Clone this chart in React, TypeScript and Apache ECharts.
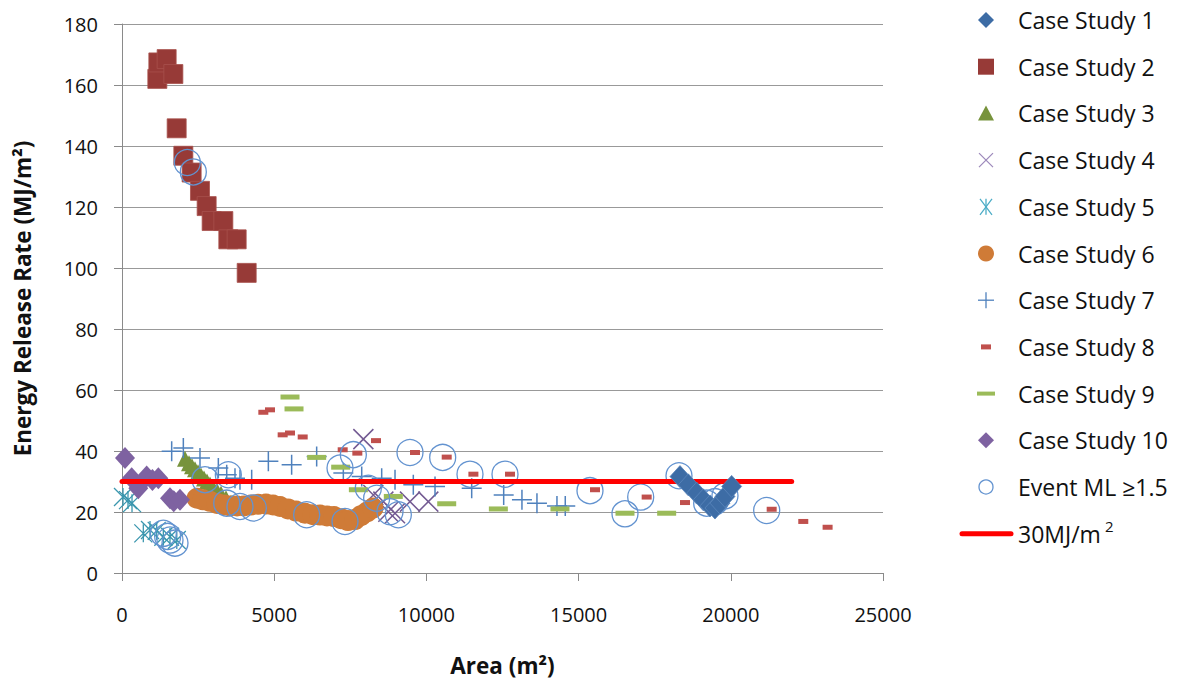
import React, { useEffect, useRef } from 'react';
import * as echarts from 'echarts';

// ---------- data (Area m², Energy Release Rate MJ/m²) ----------
const caseStudy1: [number, number][] = [
  [18331, 31.6], [18604, 28.9], [18878, 26.2], [19097, 24.0], [19316, 22.0],
  [19480, 21.3], [19645, 22.9], [19809, 25.1], [20028, 28.4],
];
const caseStudy2: [number, number][] = [
  [1161, 162], [1194, 167.4], [1467, 168.5], [1687, 163.6], [1796, 145.8],
  [2015, 136.8], [2288, 131.3], [2562, 125.3], [2781, 120.3], [2945, 115.4],
  [3329, 115.4], [3493, 109.4], [3767, 109.4], [4096, 98.4],
];
const caseStudy3: [number, number][] = [
  [2070, 37.5], [2201, 36], [2300, 35], [2398, 34], [2497, 33], [2595, 32],
  [2694, 31], [2792, 30], [2891, 29], [2990, 28], [3121, 27], [3252, 26],
  [3417, 24.5], [3581, 23],
];
const caseStudy4: [number, number][] = [
  [7929, 43.9], [8257, 25.6], [8586, 23.4], [8750, 20.1], [8969, 19.6],
  [9461, 23.4], [10063, 23.4],
];
const caseStudy5: [number, number][] = [
  [33, 24.9], [197, 23.9], [329, 22.9], [700, 13], [920, 14.1], [1140, 13.8],
  [1358, 11.9], [1577, 11.9], [1800, 10.8],
];
const caseStudy6: [number, number][] = [
  [2464, 24.5], [2661, 24], [2891, 23.5], [3121, 22.8], [3351, 22.3], [3548, 22],
  [3778, 22], [4008, 22], [4238, 22.3], [4468, 22.5], [4730, 22.6], [4960, 22.3],
  [5190, 21.8], [5453, 21], [5716, 20.3], [6012, 19.6], [6274, 19.1], [6504, 19],
  [6734, 18.7], [6964, 18.5], [7194, 17.8], [7424, 17.2], [7654, 17.5], [7851, 18.8],
  [8048, 20], [8245, 21.3],
];
const caseStudy7: [number, number][] = [
  [1632, 39.9], [2015, 41], [2562, 37.7], [3165, 34.4], [3440, 32.2], [3712, 31.1],
  [3876, 30.6], [4260, 30.6], [4808, 36.6], [5573, 35.5], [6395, 38.2], [7271, 32.8],
  [7875, 31.6], [8531, 31.1], [8969, 30.6], [9570, 28.9], [10283, 28.4], [11488, 27.8],
  [12539, 25.6], [13139, 24], [13632, 22.9], [14289, 22], [14562, 22],
];
const caseStudy8: [number, number][] = [
  [4643, 52.7], [4862, 53.5], [5278, 45.3], [5519, 45.9], [5936, 44.6], [7250, 40.4],
  [7731, 39.3], [8344, 43.4], [9625, 39.5], [10667, 38], [11544, 32.4], [12747, 32.4],
  [13929, 30], [15539, 27.3], [17236, 24.9], [18495, 23.1], [19734, 24.3], [21343, 20.9],
  [22381, 16.9], [23180, 15.0],
];
const caseStudy9: [number, number][] = [
  [5519, 57.7], [5651, 53.8], [6395, 37.9], [7184, 34.7], [7765, 27.3], [8913, 25.1],
  [10667, 22.7], [12364, 21], [14388, 21], [16524, 19.6], [17893, 19.6],
];
const caseStudy10: [number, number][] = [
  [99, 37.7], [318, 31.1], [536, 27.8], [810, 31.6], [1000, 30.5], [1194, 31.1],
  [1577, 24.5], [1700, 23.5], [1905, 24],
];
const eventML: [number, number][] = [
  [2146, 134.6], [2343, 131.5], [1358, 13], [1500, 12], [1577, 10.8], [1741, 9.8],
  [2727, 30.6], [3493, 32.2], [3440, 22.9], [3876, 21.8], [4314, 21.3], [6067, 19.1],
  [7326, 16.9], [7162, 34.4], [7600, 38.8], [8092, 27.8], [8366, 24.5], [8804, 20.1],
  [9078, 19.1], [9461, 39.5], [10535, 37.9], [11432, 32.4], [12582, 32.4], [15374, 27],
  [16524, 19.4], [17040, 24.9], [18298, 31.9], [19207, 22.9], [19480, 23.4],
  [19809, 25.3], [21179, 20.5],
];
const thresholdLine: [number, number][] = [[0, 30], [22000, 30]];

const seriesNames = [
  'Case Study 1', 'Case Study 2', 'Case Study 3', 'Case Study 4', 'Case Study 5',
  'Case Study 6', 'Case Study 7', 'Case Study 8', 'Case Study 9', 'Case Study 10',
  'Event ML ≥1.5',
];
const thresholdName = '30MJ/m2';

const xMin = 0, xMax = 25000, xInterval = 5000;
const yMin = 0, yMax = 180, yInterval = 20;

// ---------- styling ----------
const FONT = '"Open Sans", "Noto Sans", sans-serif';
const C1 = '#3D6CA5', C2 = '#973A37', C3 = '#77933C', C4 = '#735A92', C5 = '#3A96AE';
const C6 = '#CF7B37', C7 = '#4F81BD', C8 = '#C0504D', C9 = '#9BBB59', C10 = '#7E62A1';
const CEV = '#6393D0';

const X_PATH = 'path://M0,0L20,20M20,0L0,20';
const PLUS_PATH = 'path://M10,0L10,20M0,10L20,10';
const AST_PATH = 'path://M3,0L17,20M17,0L3,20M10,0L10,20';

function scatter(name: string, data: [number, number][], symbol: string, size: any, itemStyle: any, z = 2) {
  return {
    type: 'scatter', name, data, symbol, symbolSize: size, itemStyle: { opacity: 1, ...itemStyle }, z,
    silent: true, emphasis: { disabled: true },
  };
}

function legendGraphics() {
  const els: any[] = [];
  const ix = 986, tx = 1018, y0 = 20, gap = 46.7;
  const textStyle = (t: string, y: number) => ({
    type: 'text', x: tx, y,
    style: { text: t, font: `23px ${FONT}`, fill: '#111', align: 'left', verticalAlign: 'middle' },
  });
  const icons: ((y: number) => any)[] = [
    (y) => ({ type: 'polygon', shape: { points: [[ix, y - 8], [ix + 8, y], [ix, y + 8], [ix - 8, y]] }, style: { fill: C1 } }),
    (y) => ({ type: 'rect', shape: { x: ix - 8, y: y - 8, width: 16, height: 16 }, style: { fill: C2 } }),
    (y) => ({ type: 'polygon', shape: { points: [[ix, y - 8], [ix + 8, y + 7], [ix - 8, y + 7]] }, style: { fill: C3 } }),
    (y) => ({ type: 'group', children: [
      { type: 'line', shape: { x1: ix - 7, y1: y - 7, x2: ix + 7, y2: y + 7 }, style: { stroke: '#9C88BA', lineWidth: 1.3 } },
      { type: 'line', shape: { x1: ix + 7, y1: y - 7, x2: ix - 7, y2: y + 7 }, style: { stroke: '#9C88BA', lineWidth: 1.3 } },
    ] }),
    (y) => ({ type: 'group', children: [
      { type: 'line', shape: { x1: ix - 6, y1: y - 8, x2: ix + 6, y2: y + 8 }, style: { stroke: '#4BACC6', lineWidth: 1.3 } },
      { type: 'line', shape: { x1: ix + 6, y1: y - 8, x2: ix - 6, y2: y + 8 }, style: { stroke: '#4BACC6', lineWidth: 1.3 } },
      { type: 'line', shape: { x1: ix, y1: y - 8, x2: ix, y2: y + 8 }, style: { stroke: '#4BACC6', lineWidth: 1.3 } },
    ] }),
    (y) => ({ type: 'circle', shape: { cx: ix, cy: y, r: 8 }, style: { fill: C6 } }),
    (y) => ({ type: 'group', children: [
      { type: 'line', shape: { x1: ix - 8, y1: y, x2: ix + 8, y2: y }, style: { stroke: C7, lineWidth: 1.3 } },
      { type: 'line', shape: { x1: ix, y1: y - 8, x2: ix, y2: y + 8 }, style: { stroke: C7, lineWidth: 1.3 } },
    ] }),
    (y) => ({ type: 'rect', shape: { x: ix - 5, y: y - 2.5, width: 10, height: 5 }, style: { fill: C8 } }),
    (y) => ({ type: 'rect', shape: { x: ix - 9, y: y - 2, width: 18, height: 4 }, style: { fill: C9 } }),
    (y) => ({ type: 'polygon', shape: { points: [[ix, y - 8], [ix + 8, y], [ix, y + 8], [ix - 8, y]] }, style: { fill: C10 } }),
    (y) => ({ type: 'circle', shape: { cx: ix, cy: y, r: 7 }, style: { fill: 'none', stroke: CEV, lineWidth: 1.3 } }),
  ];
  icons.forEach((mk, i) => {
    const y = y0 + i * gap;
    els.push(mk(y));
    els.push(textStyle(seriesNames[i], y));
  });
  const yl = y0 + 11 * gap;
  els.push({ type: 'line', shape: { x1: 962, y1: yl, x2: 1011, y2: yl }, style: { stroke: '#FF0000', lineWidth: 5, lineCap: 'round' } });
  els.push({
    type: 'text', x: tx, y: yl,
    style: {
      text: '{a|30MJ/m}{b|2}', align: 'left', verticalAlign: 'middle',
      rich: {
        a: { font: `23px ${FONT}`, fill: '#111', lineHeight: 28 },
        b: { font: `15px ${FONT}`, fill: '#111', lineHeight: 28, padding: [0, 0, 15, 4] },
      },
    },
  });
  return els;
}

export default function App() {
  const ref = useRef<HTMLDivElement>(null);
  useEffect(() => {
    if (!ref.current) return;
    const chart = echarts.init(ref.current, undefined, { renderer: 'svg' });
    const axisLabel = { color: '#111', fontSize: 20, fontFamily: FONT };
    chart.setOption({
      animation: false,
      backgroundColor: '#fff',
      grid: { left: 122, right: 300, top: 24, bottom: 109, containLabel: false },
      xAxis: {
        type: 'value', min: xMin, max: xMax, interval: xInterval,
        name: 'Area (m²)', nameLocation: 'middle', nameGap: 81,
        nameTextStyle: { fontSize: 22.5, fontWeight: 'bold', color: '#111', fontFamily: FONT },
        axisLine: { show: true, onZero: false, lineStyle: { color: '#8a8a8a', width: 1 } },
        axisTick: { show: true, inside: false, length: 8, lineStyle: { color: '#8a8a8a' } },
        axisLabel: { ...axisLabel, margin: 31, formatter: (v: number) => String(v) },
        splitLine: { show: false },
      },
      yAxis: {
        type: 'value', min: yMin, max: yMax, interval: yInterval,
        name: 'Energy Release Rate (MJ/m²)', nameLocation: 'middle', nameGap: 88,
        nameTextStyle: { fontSize: 22.5, fontWeight: 'bold', color: '#111', fontFamily: FONT },
        axisLine: { show: true, lineStyle: { color: '#8a8a8a', width: 1 } },
        axisTick: { show: true, inside: false, length: 8, lineStyle: { color: '#8a8a8a' } },
        axisLabel: { ...axisLabel, margin: 24, formatter: (v: number) => String(v) },
        splitLine: { show: true, lineStyle: { color: '#999', width: 1.2 } },
      },
      legend: { show: false },
      graphic: legendGraphics(),
      series: [
        scatter(seriesNames[0], caseStudy1, 'diamond', [20, 22], { color: C1, borderColor: '#5A86BC', borderWidth: 0.8 }, 6),
        scatter(seriesNames[1], caseStudy2, 'rect', 19, { color: C2, borderColor: '#A8504D', borderWidth: 0.8 }),
        scatter(seriesNames[2], caseStudy3, 'triangle', 16, { color: C3 }),
        scatter(seriesNames[3], caseStudy4, X_PATH, 20, { color: 'rgba(0,0,0,0)', borderColor: C4, borderWidth: 1.5 }),
        scatter(seriesNames[4], caseStudy5, AST_PATH, 18, { color: 'rgba(0,0,0,0)', borderColor: C5, borderWidth: 1.3 }),
        scatter(seriesNames[5], caseStudy6, 'circle', 21, { color: C6 }),
        scatter(seriesNames[6], caseStudy7, PLUS_PATH, 20, { color: 'rgba(0,0,0,0)', borderColor: C7, borderWidth: 1.5 }),
        scatter(seriesNames[7], caseStudy8, 'rect', [10, 5], { color: C8 }),
        scatter(seriesNames[8], caseStudy9, 'rect', [19, 5], { color: C9 }),
        scatter(seriesNames[9], caseStudy10, 'diamond', [20, 22], { color: C10 }),
        scatter(seriesNames[10], eventML, 'circle', 26, { color: 'rgba(0,0,0,0)', borderColor: CEV, borderWidth: 1.3 }),
        {
          type: 'line', name: thresholdName, data: thresholdLine, symbol: 'none', z: 5,
          lineStyle: { color: '#FF0000', width: 5, cap: 'round' }, silent: true,
          emphasis: { disabled: true },
        },
      ],
    });
    return () => chart.dispose();
  }, []);
  return <div ref={ref} style={{ position: 'fixed', left: 0, top: 0, width: 1183, height: 682 }} />;
}
